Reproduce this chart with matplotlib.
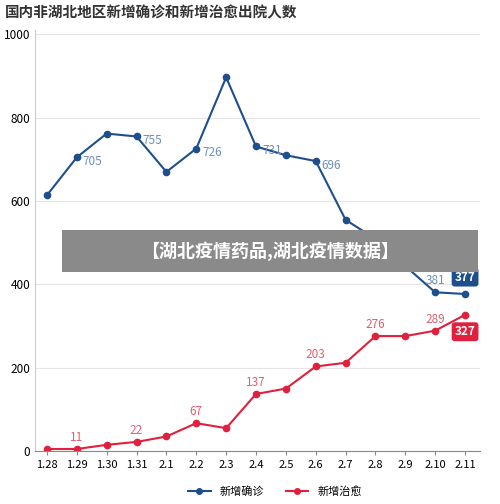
import matplotlib.pyplot as plt
from matplotlib.lines import Line2D

plt.rcParams['font.family'] = ['Noto Sans CJK SC', 'DejaVu Sans']

dates = ['1.28', '1.29', '1.30', '1.31', '2.1', '2.2', '2.3', '2.4', '2.5', '2.6',
         '2.7', '2.8', '2.9', '2.10', '2.11']
confirmed = [614, 705, 762, 755, 670, 726, 897, 731, 710, 696, 555, 509, 444, 381, 377]
cured = [5, 5, 15, 22, 35, 67, 55, 137, 150, 203, 212, 276, 276, 289, 327]
blue_labels = {1: 705, 3: 755, 5: 726, 7: 731, 9: 696, 11: 509, 13: 381}
red_labels = {1: 11, 3: 22, 5: 67, 7: 137, 9: 203, 11: 276, 13: 289}

blue = '#1f4e8c'
red = '#e0203c'

fig = plt.figure(figsize=(5, 5.04), dpi=100)
ax = fig.add_axes([0.07, 0.105, 0.89, 0.835])
x = list(range(len(dates)))
ax.plot(x, confirmed, color=blue, lw=1.5, marker='o', ms=4.5)
ax.plot(x, cured, color=red, lw=1.5, marker='o', ms=4.5)

for i, v in blue_labels.items():
    if i == 13:
        ax.text(i, confirmed[i] + 12, str(v), color='#6f8fb8', fontsize=8.5, ha='center', va='bottom')
    else:
        ax.text(i + 0.2, confirmed[i] + 5, str(v), color='#6f8fb8', fontsize=8.5, va='top')
for i, v in red_labels.items():
    ax.text(i, cured[i] + 12, str(v), color='#e06070', fontsize=8.5, ha='center', va='bottom')

# end badges
ax.text(14, confirmed[-1] + 25, str(confirmed[-1]), color='white', fontsize=8.5, fontweight='bold',
        ha='center', va='bottom', bbox=dict(boxstyle='round,pad=0.25', fc=blue, ec='none'))
ax.text(14, cured[-1] - 25, str(cured[-1]), color='white', fontsize=8.5, fontweight='bold',
        ha='center', va='top', bbox=dict(boxstyle='round,pad=0.25', fc=red, ec='none'))

ax.set_xlim(-0.4, 14.5)
ax.set_ylim(0, 1010)
ax.set_xticks(x)
ax.set_xticklabels(dates, fontsize=8)
ax.set_yticks(range(0, 1001, 200))
ax.tick_params(axis='y', labelsize=8.5, length=0)
ax.tick_params(axis='x', length=3, color='#888888')
ax.grid(axis='y', color='#e5e5e5', lw=0.8)
for s in ['top', 'right']:
    ax.spines[s].set_visible(False)
ax.spines['left'].set_color('#cccccc')
ax.spines['bottom'].set_color('#888888')

fig.text(0.01, 0.975, '国内非湖北地区新增确诊和新增治愈出院人数', fontsize=10.5,
         fontweight='bold', color='#333333', va='center')

handles = [Line2D([], [], color=blue, marker='o', ms=4, lw=1.5),
           Line2D([], [], color=red, marker='o', ms=4, lw=1.5)]
fig.legend(handles, ['新增确诊', '新增治愈'], loc='lower center', ncol=2, frameon=False,
           fontsize=8, bbox_to_anchor=(0.55, -0.005), handlelength=2)

# watermark banner
fig.patches.append(plt.Rectangle((0.124, 0.46), 0.832, 0.083, transform=fig.transFigure,
                                 fc='#8a8a8a', ec='none', zorder=5))
fig.text(0.54, 0.502, '【湖北疫情药品,湖北疫情数据】', fontsize=13, fontweight='bold',
         color='white', ha='center', va='center', zorder=6)

fig.savefig('out.png')
